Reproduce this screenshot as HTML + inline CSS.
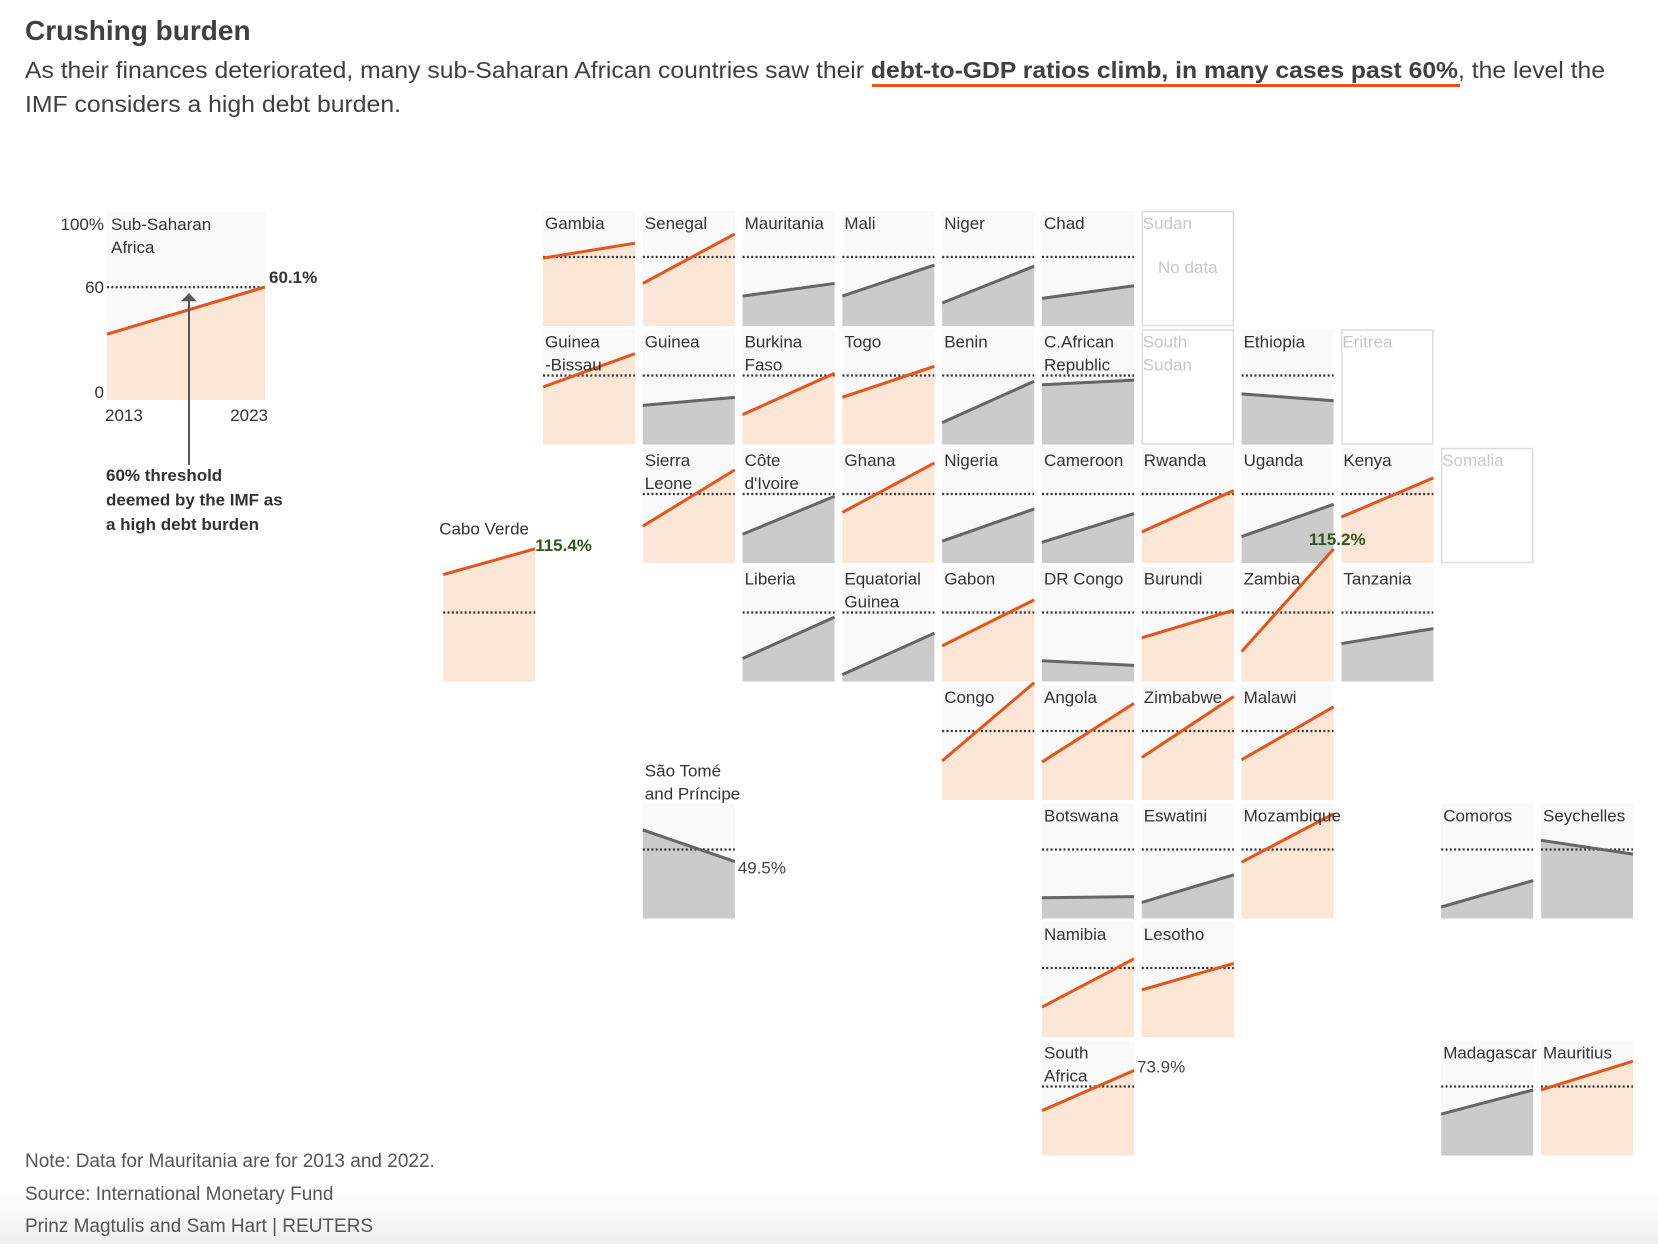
<!DOCTYPE html>
<html><head><meta charset="utf-8">
<style>
html,body{margin:0;padding:0;background:#fff;}
body{width:1658px;height:1244px;overflow:hidden;font-family:"Liberation Sans",sans-serif;}
svg text{font-family:"Liberation Sans",sans-serif;}
</style></head>
<body>
<svg id="chart" width="1658" height="1244" viewBox="0 0 1658 1244" xmlns="http://www.w3.org/2000/svg">
<defs>
<linearGradient id="bg" x1="0" y1="0" x2="0" y2="1"><stop offset="0" stop-color="#fff"/><stop offset="1" stop-color="#efefef"/></linearGradient>
</defs>
<rect x="0" y="1190" width="1658" height="54" fill="url(#bg)"/>
<text x="25" y="40" font-size="28" font-weight="bold" fill="#404040">Crushing burden</text>
<text x="25" y="78" font-size="23" fill="#404040" textLength="1580" lengthAdjust="spacingAndGlyphs">As their finances deteriorated, many sub-Saharan African countries saw their <tspan font-weight="bold">debt-to-GDP ratios climb, in many cases past 60%</tspan>, the level the</text>
<rect x="872" y="84" width="588" height="3" fill="#e8531a"/>
<text x="25" y="112" font-size="23" fill="#404040" textLength="376" lengthAdjust="spacingAndGlyphs">IMF considers a high debt burden.</text>
<g id="grid"></g>
<g id="ssa"></g>
<text x="25" y="1167" font-size="19" fill="#555">Note: Data for Mauritania are for 2013 and 2022.</text>
<text x="25" y="1200" font-size="19" fill="#555">Source: International Monetary Fund</text>
<text x="25" y="1232" font-size="19" fill="#555">Prinz Magtulis and Sam Hart | REUTERS</text>
</svg>
<script>
const countries = ["Gambia","Senegal","Mauritania","Mali","Niger","Chad","Sudan",
"Guinea|-Bissau","Guinea","Burkina|Faso","Togo","Benin","C.African|Republic","South|Sudan","Ethiopia","Eritrea",
"Sierra|Leone","Côte|d'Ivoire","Ghana","Nigeria","Cameroon","Rwanda","Uganda","Kenya","Somalia",
"Cabo Verde","Liberia","Equatorial|Guinea","Gabon","DR Congo","Burundi","Zambia","Tanzania",
"Congo","Angola","Zimbabwe","Malawi",
"São Tomé|and Príncipe","Botswana","Eswatini","Mozambique","Comoros","Seychelles",
"Namibia","Lesotho",
"South|Africa","Madagascar","Mauritius"];
const debt2013 = [59,37,26,26,20,24,null,
50,34,26,41,19,52,null,44,null,
32,25,44,19,18,27,23,40,null,
93,20,6,31,18,38,26,33,
34,33,37,35,
77,18,14,49,10,68,
26,41,
39,36,57];
const debt2023 = [72,80,37,53,52,35,null,
79,41,62,68,55,56,null,38,null,
81,58,87,47,43,63,51,74,null,
115.4,56,42,71,14,62,115.2,46,
102,84,90,81,
49.5,19,38,91,33,56,
68,64,
73.9,57,82];
const gridCol = [0,1,2,3,4,5,6, 0,1,2,3,4,5,6,7,8, 1,2,3,4,5,6,7,8,9, -1,2,3,4,5,6,7,8, 4,5,6,7, 1,5,6,7,9,10, 5,6, 5,9,10];
const gridRow = [0,0,0,0,0,0,0, 1,1,1,1,1,1,1,1,1, 2,2,2,2,2,2,2,2,2, 3,3,3,3,3,3,3,3, 4,4,4,4, 5,5,5,5,5,5, 6,6, 7,7,7];
const ssaValues = [35, 60.1];
const threshold = 60;

const NS = "http://www.w3.org/2000/svg";
const ORANGE = "#e8531a", ORANGE_FILL = "#fce6d6", GREY = "#666", GREY_FILL = "#cbcbcb";
const X0 = 543, PITCH_X = 99.8, W = 92, Y0 = 211, PITCH_Y = 118.5, H = 115;
function mk(tag, attrs, parent){ const e = document.createElementNS(NS, tag); for (const k in attrs) e.setAttribute(k, attrs[k]); parent.appendChild(e); return e; }
function colX(c){ return X0 + c*PITCH_X; }
function rowY(r){ return Y0 + r*PITCH_Y; }
function yScale(v, top, h){ return top + h - v/100*h; }

const grid = document.getElementById("grid");
countries.forEach((name, i) => {
  const x = colX(gridCol[i]), top = rowY(gridRow[i]);
  const g = mk("g", {}, grid);
  const slug = name.replace(/\|/g," ").toLowerCase().replace(/[^a-z]+/g,"-");
  
  
  const a = debt2013[i], b = debt2023[i];
  const lines = name.split("|");
  const isCabo = name === "Cabo Verde", isSao = name.startsWith("São Tomé");
  if (a === null) {
    const box = mk("rect", {x:x+0.5, y:top+0.5, width:W-1, height:H-1, fill:"#fff", stroke:"#ddd", "stroke-width":1.5}, g);
    
    
    lines.forEach((ln, k) => {
      const t = mk("text", {x:x+1, y:top+18+k*23, "font-size":17, fill:"#c8c8c8"}, g);
      t.textContent = ln;
      
      
    });
    if (name === "Sudan") {
      const t = mk("text", {x:x+W/2, y:top+62, "font-size":17, fill:"#c8c8c8", "text-anchor":"middle"}, g);
      t.textContent = "No data";
      
      
    }
    return;
  }
  const high = b >= threshold;
  const bg = mk("rect", {x:x, y:top, width:W, height:H, fill:"#f9f9f9"}, g);
  
  
  const ya = yScale(a, top, H), yb = yScale(b, top, H);
  const area = mk("path", {d:`M${x},${top+H} L${x},${ya} L${x+W},${yb} L${x+W},${top+H} Z`, fill: high ? ORANGE_FILL : GREY_FILL}, g);
  
  
  const yt = yScale(threshold, top, H);
  const dl = mk("line", {x1:x, y1:yt, x2:x+W, y2:yt, stroke:"#333", "stroke-width":2.2, "stroke-dasharray":"2 2.3"}, g);
  
  
  const ln = mk("line", {x1:x, y1:ya, x2:x+W, y2:yb, stroke: high ? ORANGE : GREY, "stroke-width":3}, g);
  
  
  lines.forEach((l, k) => {
    let ty = top + 18 + k*23;
    if (isCabo) ty = top - 32;
    if (isSao) ty = top - 27 + k*23;
    const t = mk("text", {x:x+(isCabo ? -4 : 2), y:ty, "font-size":17, fill:"#333"}, g);
    t.textContent = l;
    
    
  });
  let label = null, bold = false, lx = x+W+2, ly = yb+10, col = "#444", anchor = "start";
  if (isCabo) { label = b.toFixed(1)+"%"; bold = true; col = "#2d5a1b"; lx = x+W; ly = yb + 2; }
  if (name === "Zambia") { label = b.toFixed(1)+"%"; bold = true; col = "#2d5a1b"; lx = x+W+32; ly = yb - 4; anchor = "end"; }
  if (isSao) { label = b.toFixed(1)+"%"; lx = x+W+3; ly = yb + 12; }
  if (name === "South|Africa") { label = b.toFixed(1)+"%"; lx = x+W+3; ly = yb + 2; }
  if (label) {
    const t = mk("text", {x:lx, y:ly, "font-size":17, fill:col, "font-weight": bold ? "bold" : "normal", "text-anchor":anchor}, g);
    t.textContent = label;
    
    
  }
});

// Sub-Saharan Africa key chart
const ssa = document.getElementById("ssa");
const SX = 107, ST = 212, SW = 158, SH = 188;
const sbg = mk("rect", {x:SX, y:ST, width:SW, height:SH, fill:"#f9f9f9"}, ssa);


const sya = yScale(ssaValues[0], ST, SH), syb = yScale(ssaValues[1], ST, SH);
const sarea = mk("path", {d:`M${SX},${ST+SH} L${SX},${sya} L${SX+SW},${syb} L${SX+SW},${ST+SH} Z`, fill:ORANGE_FILL}, ssa);


const syt = yScale(threshold, ST, SH);
const sdl = mk("line", {x1:SX, y1:syt, x2:SX+SW, y2:syt, stroke:"#333", "stroke-width":2.2, "stroke-dasharray":"2 2.3"}, ssa);


const sln = mk("line", {x1:SX, y1:sya, x2:SX+SW, y2:syb, stroke:ORANGE, "stroke-width":3}, ssa);


const yTicks = [100, 60, 0], yTickLabels = ["100%", "60", "0"];
yTicks.forEach((v, k) => {
  const t = mk("text", {x:SX-3, y:yScale(v, ST, SH)+6 - (v===0?8:0) + (v===100?12:0), "font-size":17, fill:"#333", "text-anchor":"end"}, ssa);
  t.textContent = yTickLabels[k];
  
  
});
const xLabels = ["2013", "2023"];
xLabels.forEach((l, k) => {
  const t = mk("text", {x: k===0 ? SX-2 : SX+SW+3, y:ST+SH+21, "font-size":17, fill:"#333", "text-anchor": k===0 ? "start" : "end"}, ssa);
  t.textContent = l;
  
  
});
["Sub-Saharan","Africa"].forEach((l, k) => {
  const t = mk("text", {x:SX+4, y:ST+18+k*23, "font-size":17, fill:"#333"}, ssa);
  t.textContent = l;
  
  
});
const sv = mk("text", {x:SX+SW+4, y:syb-4, "font-size":17, "font-weight":"bold", fill:"#333"}, ssa);
sv.textContent = ssaValues[1].toFixed(1) + "%";


const ax = 189;
const arr = mk("line", {x1:ax, y1:syt+12, x2:ax, y2:465, stroke:"#555", "stroke-width":2}, ssa);


const head = mk("path", {d:`M${ax-8},${syt+14} L${ax},${syt+6} L${ax+8},${syt+14} Z`, fill:"#555"}, ssa);


["60% threshold","deemed by the IMF as","a high debt burden"].forEach((l, k) => {
  const t = mk("text", {x:106, y:481+k*24.5, "font-size":17, "font-weight":"bold", fill:"#333"}, ssa);
  t.textContent = l;
  
  
});
</script>
</body></html>
